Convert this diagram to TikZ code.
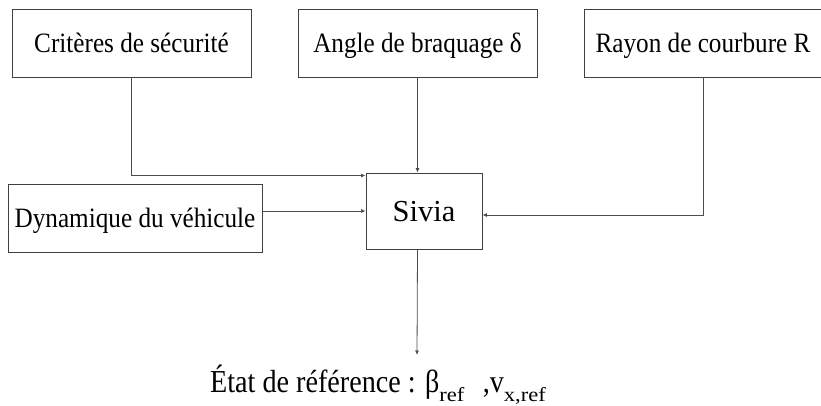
\documentclass[tikz,border=0pt]{standalone}
\usepackage{fontspec}
\setmainfont{Liberation Serif}
\usetikzlibrary{arrows.meta}
% slightly condensed text
\newcommand{\narrow}[2][0.9]{\scalebox{#1}[1]{#2}}
\newcommand{\sbs}[1]{\raisebox{-0.3em}{\fontsize{20}{20}\selectfont\scalebox{1.28}[1]{#1}}}
\begin{document}
\begin{tikzpicture}[x=1pt,y=-1pt,
  blk/.style={draw=black!75,line width=0.9pt,rectangle,inner sep=0pt,
    text height=18.5pt,text depth=0pt,
    font=\fontsize{28}{30}\selectfont},
  link/.style={draw=black!70,line width=0.8pt,-{Latex[length=4.5pt,width=4pt]}}]
\useasboundingbox (0,0) rectangle (821,406);
% input blocks
\node[blk,minimum width=239pt,minimum height=68pt] (crit) at (131.5,43) {\narrow{Critères de sécurité}};
\node[blk,minimum width=239pt,minimum height=68pt] (angle) at (417.5,43) {\narrow{Angle de braquage δ}};
\node[blk,minimum width=238pt,minimum height=68pt] (rayon) at (703,43) {\narrow{Rayon de courbure R}};
\node[blk,minimum width=254pt,minimum height=68pt] (dyn) at (135,218) {\narrow{Dynamique du véhicule}};
% solver block
\node[blk,minimum width=116pt,minimum height=76pt,text height=20pt,font=\fontsize{30.5}{34}\selectfont] (sivia) at (424,211) {Sivia};
% output
\coordinate (out) at (417,355);
\node[anchor=base west,inner sep=0pt,font=\fontsize{32}{36}\selectfont] (etat) at (210,392)
  {\narrow[0.88]{État de référence : β\sbs{ref}\hspace{0.65em},v\sbs{x,ref}}};
% connectors
\draw[link] (crit.south) |- ([yshift=-3pt]sivia.north west);
\draw[link] (angle.south) -- (angle.south |- sivia.north);
\draw[link] (dyn.east |- sivia.west) -- (sivia.west);
\draw[link] (rayon.south) |- ([yshift=-4pt]sivia.east);
\draw[link] (angle.south |- sivia.south) -- (out);
\end{tikzpicture}
\end{document}
